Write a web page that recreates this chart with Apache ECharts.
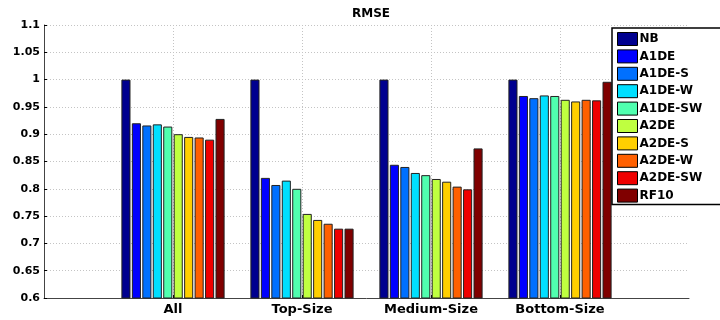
<!DOCTYPE html>
<html>
<head>
<meta charset="utf-8">
<script src="https://cdn.jsdelivr.net/npm/echarts@6/dist/echarts.min.js"></script>
<style>html,body{margin:0;padding:0;background:#fff;}#c{width:720px;height:320px;}</style>
</head>
<body>
<div id="c"></div>
<script>
const categories = ['All', 'Top-Size', 'Medium-Size', 'Bottom-Size'];
const methods = ['NB', 'A1DE', 'A1DE-S', 'A1DE-W', 'A1DE-SW', 'A2DE', 'A2DE-S', 'A2DE-W', 'A2DE-SW', 'RF10'];
const colors = ['#00008f', '#0000ff', '#0070ff', '#00dfff', '#50ffaf', '#bfff40', '#ffcf00', '#ff6000', '#ef0000', '#800000'];
const NB      = [1.000, 1.000, 1.000, 1.000];
const A1DE    = [0.920, 0.820, 0.844, 0.970];
const A1DE_S  = [0.916, 0.807, 0.840, 0.966];
const A1DE_W  = [0.918, 0.815, 0.829, 0.971];
const A1DE_SW = [0.914, 0.800, 0.825, 0.970];
const A2DE    = [0.900, 0.754, 0.818, 0.963];
const A2DE_S  = [0.895, 0.743, 0.813, 0.960];
const A2DE_W  = [0.894, 0.736, 0.804, 0.963];
const A2DE_SW = [0.890, 0.727, 0.799, 0.962];
const RF10    = [0.928, 0.727, 0.874, 0.996];
const values = [NB, A1DE, A1DE_S, A1DE_W, A1DE_SW, A2DE, A2DE_S, A2DE_W, A2DE_SW, RF10];
const yMin = 0.6, yMax = 1.1, yStep = 0.05;

const FONT = 'DejaVu Sans';
const axisCats = [''].concat(categories, ['']);
const inner = (i) => i >= 1 && i <= categories.length;
const gridStyle = {type: [1, 2], color: '#c4c4c4', width: 1};

const chart = echarts.init(document.getElementById('c'), null, {renderer: 'canvas'});
chart.setOption({
  animation: false,
  backgroundColor: '#fff',
  title: {
    text: 'RMSE', left: 366, textAlign: 'center', top: 3,
    textStyle: {fontFamily: FONT, fontWeight: 'bold', fontSize: 12, color: '#000'}
  },
  grid: {left: 44, right: 31, top: 25, bottom: 22, containLabel: false},
  legend: {
    orient: 'vertical', left: 612, top: 28,
    itemWidth: 20, itemHeight: 13, itemGap: 3.4,
    padding: [4, 24, 2, 5],
    backgroundColor: '#fff', borderColor: '#000', borderWidth: 1.5,
    icon: 'rect',
    itemStyle: {borderColor: '#000', borderWidth: 1},
    textStyle: {fontFamily: FONT, fontWeight: 'bold', fontSize: 12, lineHeight: 13, color: '#000', padding: [0, 0, 0, -3]},
    data: methods
  },
  xAxis: {
    type: 'category', data: axisCats, boundaryGap: false,
    axisLine: {lineStyle: {color: '#444', width: 1}},
    axisTick: {inside: true, length: 3, interval: inner, lineStyle: {color: '#000'}},
    splitLine: {show: true, interval: inner, lineStyle: gridStyle},
    axisLabel: {interval: 0, margin: 5, fontFamily: FONT, fontWeight: 'bold', fontSize: 13, color: '#000'}
  },
  yAxis: {
    type: 'value', min: yMin, max: yMax, interval: yStep,
    axisLine: {show: true, lineStyle: {color: '#444', width: 1}},
    axisTick: {show: true, inside: true, length: 3, lineStyle: {color: '#000'}},
    splitLine: {show: true, lineStyle: gridStyle},
    axisLabel: {margin: 4, fontFamily: FONT, fontWeight: 'bold', fontSize: 11, color: '#000',
      formatter: (v) => String(+v.toFixed(2))}
  },
  series: methods.map((m, i) => ({
    name: m, type: 'bar',
    data: [null].concat(values[i], [null]),
    barCategoryGap: '20%', barGap: '15%',
    itemStyle: {color: colors[i], borderColor: '#222', borderWidth: 1},
    clip: true
  }))
});
</script>
</body>
</html>
